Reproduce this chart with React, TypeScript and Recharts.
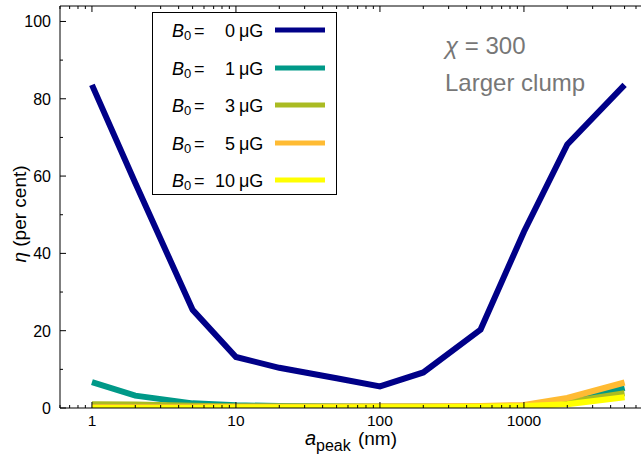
import React from 'react';
import { LineChart, Line, XAxis, YAxis, Legend, Customized } from 'recharts';

const aPeak = [1, 2, 5, 10, 20, 50, 100, 200, 500, 1000, 2000, 5000];
const etaB0 = [83.6, 58.2, 25.4, 13.2, 10.4, 7.7, 5.6, 9.2, 20.3, 45.6, 68.2, 83.6];
const etaB1 = [6.7, 3.2, 1.2, 0.7, 0.5, 0.4, 0.3, 0.3, 0.2, 0.4, 1.8, 5.2];
const etaB3 = [1.0, 0.9, 0.6, 0.4, 0.4, 0.4, 0.4, 0.4, 0.4, 0.6, 1.5, 3.8];
const etaB5 = [0.2, 0.2, 0.2, 0.3, 0.3, 0.3, 0.4, 0.4, 0.5, 0.8, 2.6, 6.6];
const etaB10 = [0.0, 0.0, 0.0, 0.1, 0.1, 0.1, 0.2, 0.2, 0.3, 0.5, 1.0, 2.8];

const fieldLabels = ['0', '1', '3', '5', '10'];
const seriesKeys = ['b0', 'b1', 'b3', 'b5', 'b10'];
const seriesValues = [etaB0, etaB1, etaB3, etaB5, etaB10];
const colors = ['#000088', '#009988', '#aabb22', '#ffbb33', '#ffff00'];

const xMajorTicks = [1, 10, 100, 1000];
const xAllTicks = [
  0.6, 0.7, 0.8, 0.9,
  1, 2, 3, 4, 5, 6, 7, 8, 9,
  10, 20, 30, 40, 50, 60, 70, 80, 90,
  100, 200, 300, 400, 500, 600, 700, 800, 900,
  1000, 2000, 3000, 4000, 5000, 6000,
];
const yMajorTicks = [0, 20, 40, 60, 80, 100];
const yAllTicks = [0, 10, 20, 30, 40, 50, 60, 70, 80, 90, 100];

const data = aPeak.map((x, i) => {
  const row: Record<string, number> = { x };
  seriesKeys.forEach((k, j) => {
    row[k] = seriesValues[j][i];
  });
  return row;
});

const FONT = '"Liberation Sans", Arial, Helvetica, sans-serif';

const BottomTick = (props: any) => {
  const { x, y, payload } = props;
  const major = xMajorTicks.includes(payload.value);
  return (
    <g>
      <line x1={x} x2={x} y1={y} y2={y - (major ? 6 : 3)} stroke="#000" strokeWidth={1} />
      {major && (
        <text x={x} y={y + 18} textAnchor="middle" fontSize={15.5} fontFamily={FONT} fill="#000">
          {payload.value}
        </text>
      )}
    </g>
  );
};

const TopTick = (props: any) => {
  const { x, y, payload } = props;
  const major = xMajorTicks.includes(payload.value);
  return <line x1={x} x2={x} y1={y} y2={y + (major ? 6 : 3)} stroke="#000" strokeWidth={1} />;
};

const LeftTick = (props: any) => {
  const { x, y, payload } = props;
  const major = yMajorTicks.includes(payload.value);
  return (
    <g>
      <line x1={x} x2={x + (major ? 6 : 3)} y1={y} y2={y} stroke="#000" strokeWidth={1} />
      {major && (
        <text x={x - 9} y={y + 6} textAnchor="end" fontSize={16} fontFamily={FONT} fill="#000">
          {payload.value}
        </text>
      )}
    </g>
  );
};

const RightTick = (props: any) => {
  const { x, y, payload } = props;
  const major = yMajorTicks.includes(payload.value);
  return <line x1={x} x2={x - (major ? 6 : 3)} y1={y} y2={y} stroke="#000" strokeWidth={1} />;
};

const renderLegend = () => {
  const rowY = [18, 56, 93, 131, 168];
  return (
    <svg width={185} height={183} style={{ display: 'block' }}>
      <rect x={0.5} y={0.5} width={184} height={182} fill="#fff" stroke="#000" strokeWidth={1} />
      {fieldLabels.map((lab, i) => (
        <g key={lab} fontFamily={FONT} fontSize={18} fill="#000">
          <text x={20} y={rowY[i] + 6.5} fontStyle="italic">B</text>
          <text x={32} y={rowY[i] + 9.5} fontSize={13}>0</text>
          <text x={42} y={rowY[i] + 6.5}>=</text>
          <text x={83} y={rowY[i] + 6.5} textAnchor="end">{lab}</text>
          <text x={87} y={rowY[i] + 6.5}>μG</text>
          <line x1={123} x2={173} y1={rowY[i]} y2={rowY[i]} stroke={colors[i]} strokeWidth={5} />
        </g>
      ))}
    </svg>
  );
};

const Annotations = () => (
  <g fontFamily={FONT}>
    <text x={445} y={54} fontSize={24} fill="#777">
      <tspan fontStyle="italic">χ</tspan>
      <tspan> = 300</tspan>
    </text>
    <text x={445} y={91} fontSize={24} fill="#777">Larger clump</text>
    <text x={305} y={445} fontSize={20} fontStyle="italic" fill="#000">a</text>
    <text x={316} y={451} fontSize={16} fill="#000">peak</text>
    <text x={397} y={445} fontSize={19} textAnchor="end" fill="#000">(nm)</text>
    <text
      x={26}
      y={214}
      fontSize={19}
      textAnchor="middle"
      fill="#000"
      transform="rotate(-90 26 214)"
    >
      <tspan fontStyle="italic">η</tspan>
      <tspan> (per cent)</tspan>
    </text>
  </g>
);

export default function App() {
  return (
    <div style={{ position: 'absolute', left: 0, top: 0, width: 641, height: 455, overflow: 'hidden', background: '#fff' }}>
      <LineChart
        width={641}
        height={455}
        data={data}
        margin={{ top: 0, right: 0, bottom: 0, left: 0 }}
      >
        <XAxis
          xAxisId="b"
          dataKey="x"
          type="number"
          scale="log"
          domain={[0.6, 6500]}
          allowDataOverflow
          ticks={xAllTicks}
          interval={0}
          tickSize={0}
          tickMargin={0}
          tickLine={false}
          tick={<BottomTick />}
          height={47}
          axisLine={{ stroke: '#000', strokeWidth: 1 }}
        />
        <XAxis
          xAxisId="t"
          orientation="top"
          dataKey="x"
          type="number"
          scale="log"
          domain={[0.6, 6500]}
          allowDataOverflow
          ticks={xAllTicks}
          interval={0}
          tickSize={0}
          tickMargin={0}
          tickLine={false}
          tick={<TopTick />}
          height={6}
          axisLine={{ stroke: '#000', strokeWidth: 1 }}
        />
        <YAxis
          yAxisId="l"
          type="number"
          domain={[0, 104]}
          allowDataOverflow
          ticks={yAllTicks}
          interval={0}
          tickSize={0}
          tickMargin={0}
          tickLine={false}
          tick={<LeftTick />}
          width={60}
          axisLine={{ stroke: '#000', strokeWidth: 1 }}
        />
        <YAxis
          yAxisId="r"
          orientation="right"
          type="number"
          domain={[0, 104]}
          allowDataOverflow
          ticks={yAllTicks}
          interval={0}
          tickSize={0}
          tickMargin={0}
          tickLine={false}
          tick={<RightTick />}
          width={0}
          axisLine={{ stroke: '#000', strokeWidth: 1 }}
        />
        {seriesKeys.map((k, i) => (
          <Line
            key={k}
            xAxisId="b"
            yAxisId="l"
            type="linear"
            dataKey={k}
            stroke={colors[i]}
            strokeWidth={6}
            dot={false}
            activeDot={false}
            isAnimationActive={false}
          />
        ))}
        <Legend
          layout="horizontal"
          verticalAlign="middle"
          align="center"
          content={renderLegend}
          wrapperStyle={{ position: 'absolute', left: 152, top: 12, width: 185, height: 183, margin: 0, padding: 0 }}
        />
        <Customized component={<Annotations />} />
      </LineChart>
    </div>
  );
}
